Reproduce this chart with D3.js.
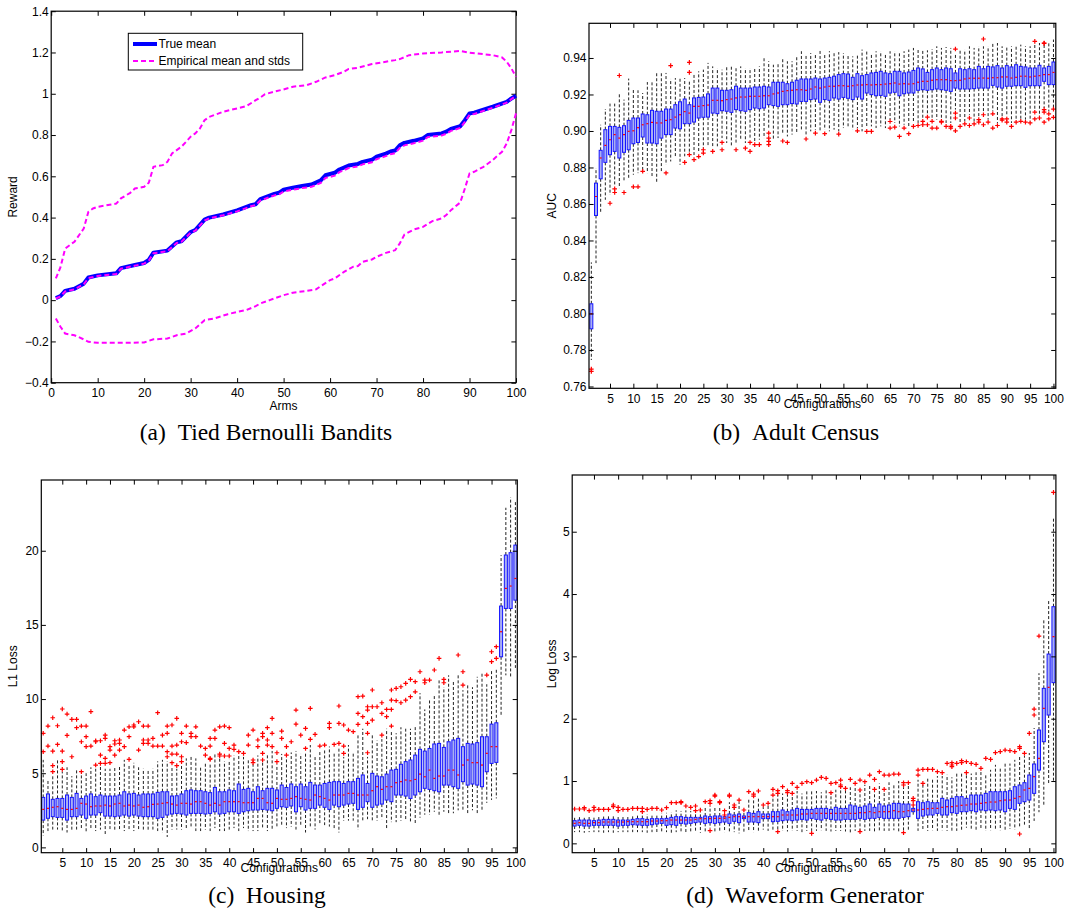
<!DOCTYPE html>
<html>
<head>
<meta charset="utf-8">
<script src="https://cdn.jsdelivr.net/npm/d3@7"></script>
<style>
body { margin: 0; background: white; }
</style>
</head>
<body>
<svg id="chart"></svg>
<script>
var w = 1068;
var h = 911;

// ---- (a) Tied Bernoulli Bandits : [arm, reward]
var trueMean = [[1,0.01],[2,0.02],[3,0.045],[5,0.055],[7,0.08],[8,0.11],[10,0.12],[14,0.13],[15,0.155],[18,0.17],[20,0.18],[21,0.195],[22,0.23],[25,0.24],[27,0.28],[28,0.285],[30,0.33],[31,0.34],[33,0.39],[34,0.40],[37,0.415],[40,0.435],[43,0.46],[44,0.465],[45,0.49],[48,0.515],[49,0.52],[50,0.535],[52,0.545],[54,0.553],[56,0.56],[58,0.58],[59,0.605],[61,0.617],[62,0.633],[64,0.652],[66,0.66],[67,0.67],[69,0.68],[70,0.695],[72,0.71],[73,0.72],[74,0.725],[75,0.75],[76,0.762],[78,0.772],[80,0.784],[81,0.80],[84,0.808],[85,0.816],[86,0.83],[88,0.843],[89,0.872],[90,0.905],[91,0.908],[95,0.937],[98,0.961],[99,0.977],[100,0.99]];
var empMean = [[1,0.008],[2,0.018],[3,0.042],[5,0.052],[7,0.077],[8,0.107],[10,0.117],[14,0.127],[15,0.152],[18,0.167],[20,0.177],[21,0.192],[22,0.227],[25,0.237],[27,0.277],[28,0.282],[30,0.327],[31,0.337],[33,0.386],[34,0.396],[37,0.411],[40,0.43],[43,0.455],[44,0.46],[45,0.483],[48,0.507],[49,0.512],[50,0.526],[52,0.535],[54,0.543],[56,0.549],[58,0.568],[59,0.592],[61,0.603],[62,0.62],[64,0.64],[66,0.648],[67,0.658],[69,0.668],[70,0.683],[72,0.698],[73,0.707],[74,0.712],[75,0.738],[76,0.75],[78,0.76],[80,0.773],[81,0.79],[84,0.798],[85,0.806],[86,0.82],[88,0.834],[89,0.864],[90,0.898],[91,0.902],[95,0.932],[98,0.957],[99,0.974],[100,0.99]];
var upperStd = [[1,0.105],[2,0.16],[3,0.25],[4,0.267],[5,0.283],[7,0.347],[8,0.428],[9,0.444],[10,0.452],[14,0.468],[15,0.493],[17,0.52],[18,0.541],[20,0.549],[21,0.569],[22,0.646],[24,0.654],[25,0.67],[26,0.711],[28,0.743],[29,0.767],[30,0.792],[31,0.808],[32,0.832],[33,0.872],[34,0.888],[37,0.913],[40,0.929],[42,0.94],[44,0.969],[45,0.982],[46,0.998],[48,1.01],[50,1.021],[52,1.034],[55,1.042],[57,1.058],[59,1.079],[61,1.09],[63,1.107],[64,1.12],[66,1.126],[69,1.144],[72,1.155],[74,1.163],[75,1.168],[77,1.187],[80,1.195],[84,1.2],[88,1.208],[90,1.199],[95,1.187],[97,1.176],[98,1.155],[99,1.123],[100,1.082]];
var lowerStd = [[1,-0.089],[2,-0.129],[3,-0.162],[5,-0.17],[7,-0.19],[8,-0.202],[10,-0.207],[15,-0.207],[20,-0.205],[21,-0.197],[22,-0.19],[25,-0.186],[27,-0.17],[29,-0.162],[31,-0.137],[33,-0.097],[35,-0.089],[38,-0.068],[40,-0.057],[42,-0.048],[44,-0.029],[45,-0.016],[47,0],[50,0.024],[52,0.036],[55,0.045],[57,0.052],[58,0.068],[60,0.097],[61,0.105],[63,0.137],[65,0.162],[66,0.165],[67,0.186],[69,0.197],[70,0.21],[72,0.229],[74,0.242],[75,0.275],[76,0.318],[78,0.342],[80,0.355],[82,0.383],[84,0.396],[85,0.412],[86,0.436],[88,0.473],[89,0.541],[90,0.614],[91,0.622],[93,0.646],[95,0.679],[97,0.719],[98,0.759],[99,0.824],[100,0.905]];
var armTicks = [0,10,20,30,40,50,60,70,80,90,100];
var rewardTicks = [-0.4,-0.2,0,0.2,0.4,0.6,0.8,1,1.2,1.4];

// ---- box plot panels: configuration 1..100
var configTicks = [5,10,15,20,25,30,35,40,45,50,55,60,65,70,75,80,85,90,95,100];

// (b) Adult Census, AUC
var bMed = [0.7998,0.8641,0.8852,0.8921,0.8952,0.898,0.8961,0.898,0.8998,0.9001,
0.9018,0.9034,0.904,0.9047,0.9044,0.9044,0.9058,0.9062,0.9076,0.9089,
0.9106,0.9098,0.9135,0.9135,0.9139,0.9142,0.9168,0.9168,0.9166,0.9172,
0.9175,0.9181,0.9186,0.9186,0.919,0.919,0.919,0.9193,0.9193,0.9203,
0.9208,0.9217,0.9221,0.9223,0.9226,0.9226,0.9223,0.923,0.9241,0.9235,
0.9241,0.9245,0.9245,0.9248,0.9248,0.9245,0.9248,0.9252,0.9252,0.9254,
0.9252,0.9254,0.9254,0.9257,0.9259,0.9263,0.9257,0.9259,0.9257,0.9259,
0.9267,0.9272,0.9272,0.9278,0.9281,0.9281,0.9281,0.9276,0.9276,0.9278,
0.9285,0.9289,0.9289,0.9289,0.929,0.9289,0.9292,0.9292,0.9296,0.9296,
0.929,0.9294,0.93,0.93,0.9296,0.93,0.9303,0.9309,0.9309,0.9321];
var bQ3 = [0.8053,0.8714,0.8894,0.9007,0.9025,0.9025,0.902,0.9029,0.9058,0.9071,
0.9071,0.9093,0.9089,0.9113,0.9108,0.9108,0.912,0.912,0.9144,0.916,
0.9175,0.9144,0.9181,0.9184,0.9186,0.9203,0.9235,0.9235,0.9223,0.9223,
0.9226,0.9245,0.9235,0.9235,0.9235,0.9241,0.9241,0.9245,0.9241,0.9267,
0.9267,0.9267,0.9259,0.9267,0.9278,0.9285,0.9285,0.9285,0.929,0.9285,
0.929,0.9294,0.93,0.9309,0.9314,0.9312,0.9294,0.9314,0.9303,0.9309,
0.9318,0.9321,0.9327,0.9318,0.9314,0.9327,0.9327,0.9318,0.9323,0.9332,
0.9345,0.934,0.9321,0.9336,0.9345,0.9336,0.9345,0.9341,0.9318,0.9341,
0.9336,0.9341,0.9336,0.9354,0.9341,0.9354,0.9351,0.9358,0.9345,0.9358,
0.9351,0.9363,0.9354,0.9351,0.9345,0.9345,0.936,0.9345,0.9354,0.9378];
var bQ1 = [0.7916,0.8537,0.8738,0.8828,0.887,0.8888,0.8852,0.8883,0.8897,0.893,
0.8937,0.8967,0.8934,0.8934,0.893,0.8961,0.898,0.898,0.9016,0.9012,
0.904,0.904,0.9049,0.9071,0.9075,0.9076,0.9098,0.9095,0.9111,0.9108,
0.9102,0.9117,0.9111,0.9108,0.9117,0.9126,0.9122,0.9126,0.9144,0.9139,
0.9135,0.9144,0.9144,0.915,0.9148,0.9162,0.9162,0.9172,0.9175,0.9157,
0.9172,0.9168,0.9181,0.9175,0.9184,0.9179,0.9172,0.9186,0.9175,0.9208,
0.9199,0.9193,0.9195,0.919,0.9208,0.9212,0.9193,0.9204,0.9208,0.9208,
0.9223,0.9226,0.9223,0.9226,0.923,0.9226,0.9223,0.9217,0.9235,0.923,
0.923,0.923,0.9232,0.9235,0.9235,0.9235,0.925,0.9241,0.9235,0.9245,
0.9245,0.9248,0.9248,0.9239,0.9248,0.9248,0.9248,0.9272,0.9254,0.9254];
var bLo = [0.7745,0.8276,0.855,0.8623,0.865,0.8705,0.8687,0.8724,0.8742,0.876,
0.8769,0.8788,0.8769,0.8751,0.8714,0.8778,0.8815,0.8833,0.8852,0.8815,
0.8861,0.8879,0.8861,0.8879,0.8906,0.8916,0.8906,0.8916,0.8961,0.8934,
0.8916,0.8934,0.8952,0.8934,0.8961,0.8943,0.8952,0.8961,0.9007,0.8952,
0.8961,0.898,0.897,0.898,0.8989,0.8998,0.898,0.8998,0.9007,0.8998,
0.9007,0.8998,0.9007,0.8998,0.9016,0.9016,0.9007,0.9016,0.8998,0.9025,
0.9025,0.9016,0.9025,0.9016,0.9062,0.9044,0.9025,0.9034,0.9016,0.9044,
0.9044,0.9062,0.9089,0.9062,0.9062,0.9062,0.9044,0.9044,0.9117,0.9044,
0.9053,0.9089,0.9053,0.908,0.9098,0.9062,0.9108,0.9044,0.9071,0.908,
0.9044,0.9062,0.9062,0.9062,0.9053,0.9117,0.908,0.9126,0.9108,0.9126];
var bHi = [0.828,0.8797,0.9034,0.912,0.915,0.915,0.9204,0.9172,0.9287,0.9226,
0.9223,0.9208,0.9268,0.9268,0.9321,0.9318,0.9318,0.9285,0.929,0.929,
0.929,0.9281,0.9309,0.9327,0.9336,0.9373,0.9354,0.9345,0.9336,0.9354,
0.9354,0.9345,0.9354,0.9345,0.9345,0.9345,0.9354,0.94,0.9382,0.9363,
0.9373,0.9395,0.9382,0.9382,0.9409,0.9437,0.9418,0.9427,0.9418,0.9449,
0.9427,0.9437,0.9432,0.9432,0.9427,0.9418,0.9409,0.9418,0.9446,0.9437,
0.9427,0.9437,0.9437,0.9427,0.9437,0.9437,0.9432,0.9437,0.9446,0.9455,
0.9446,0.9446,0.9442,0.9449,0.9464,0.9455,0.946,0.9455,0.9427,0.9449,
0.9446,0.9464,0.9455,0.9464,0.9464,0.9464,0.9482,0.9482,0.9464,0.9464,
0.9464,0.9467,0.9473,0.9464,0.9464,0.9482,0.9482,0.9473,0.9491,0.9501];
var bOut = [[1,0.7695],[1,0.7683],[5,0.8604],[6,0.8683],[6,0.8663],[7,0.9304],[8,0.8663],[10,0.8694],[11,0.8694],[12,0.8779],[17,0.877],[18,0.9358],[21,0.8828],[22,0.9376],[22,0.9321],[22,0.887],[23,0.8843],[24,0.886],[25,0.8897],[25,0.8879],[27,0.8888],[29,0.8937],[29,0.8897],[32,0.8897],[34,0.8906],[35,0.8937],[35,0.8888],[36,0.8925],[37,0.8925],[39,0.8988],[39,0.8961],[39,0.8943],[39,0.8925],[42,0.8945],[43,0.8937],[47,0.8956],[49,0.8988],[51,0.8985],[54,0.8983],[58,0.9001],[60,0.8998],[61,0.8998],[65,0.9052],[65,0.9016],[66,0.9021],[67,0.897],[68,0.9016],[69,0.8985],[70,0.9025],[71,0.903],[72,0.9053],[72,0.9034],[73,0.9076],[73,0.9034],[74,0.9053],[74,0.9016],[75,0.9016],[76,0.9053],[76,0.9048],[77,0.9025],[78,0.9025],[78,0.9016],[79,0.9449],[79,0.9098],[79,0.9071],[79,0.9001],[80,0.9025],[81,0.9039],[82,0.9071],[82,0.903],[83,0.9039],[84,0.9062],[84,0.9048],[85,0.9504],[85,0.9089],[85,0.9034],[86,0.9048],[87,0.9094],[87,0.9016],[88,0.903],[89,0.9066],[89,0.9059],[90,0.9066],[90,0.9048],[91,0.9025],[92,0.9048],[93,0.9053],[94,0.9048],[95,0.9044],[96,0.9491],[96,0.9103],[96,0.9066],[97,0.9071],[98,0.9482],[98,0.948],[98,0.9117],[98,0.9103],[98,0.9048],[99,0.9094],[99,0.9066],[100,0.912],[100,0.9075]];
var aucTicks = [0.76,0.78,0.8,0.82,0.84,0.86,0.88,0.9,0.92,0.94];

// (c) Housing, L1 loss
var cMed = [2.56,2.63,2.70,2.74,2.63,2.56,2.56,2.63,2.97,2.92,
2.74,2.79,2.79,2.85,2.79,2.92,2.97,2.79,2.85,2.79,
2.85,2.70,2.74,2.90,2.92,2.97,3.01,2.92,2.85,2.97,
2.97,2.92,3.08,3.08,2.97,2.85,2.97,2.85,3.08,3.08,
3.08,3.08,3.01,3.01,3.01,3.30,3.30,3.01,2.97,3.30,
3.24,3.24,3.30,3.42,3.30,3.24,3.19,3.53,3.42,3.30,
3.19,3.53,3.53,3.53,3.64,3.64,3.53,3.53,3.53,3.82,
4.09,3.91,4.09,4.09,4.36,4.43,4.54,4.49,4.58,4.94,
4.76,5.21,4.65,4.81,4.81,5.21,5.21,4.88,5.55,5.89,
5.71,5.71,5.55,6.34,6.79,6.79,14.54,17.46,17.62,18.13];
var cQ3 = [3.37,3.60,3.24,3.30,3.30,3.53,3.37,3.64,3.30,3.46,
3.60,3.42,3.53,3.46,3.46,3.46,3.53,3.75,3.60,3.64,
3.53,3.60,3.60,3.60,3.71,3.75,3.75,3.46,3.48,3.60,
3.82,3.87,3.82,3.82,3.75,3.69,4.04,3.75,3.75,3.87,
3.82,4.27,3.91,3.98,3.75,4.09,3.82,3.98,3.98,3.87,
4.20,4.04,4.27,4.09,4.27,4.09,4.38,4.20,4.20,4.31,
4.38,4.43,4.43,4.31,4.43,4.43,4.65,4.88,4.31,4.99,
4.81,4.76,4.94,5.21,5.26,5.60,5.78,5.89,6.22,6.61,
6.49,6.67,6.97,7.01,6.74,7.12,7.24,7.35,6.79,7.01,
6.97,7.06,7.46,7.46,8.31,8.40,16.27,19.71,19.87,20.38];
var cQ1 = [1.84,1.96,2.07,2.02,2.02,1.84,2.07,2.07,2.18,1.96,
2.18,2.18,2.34,2.11,2.11,2.07,2.11,2.18,2.11,2.18,
2.11,2.07,2.07,2.07,1.96,2.02,2.18,2.25,2.29,2.25,
2.18,2.29,2.29,2.29,2.25,2.29,2.40,2.25,2.29,2.40,
2.40,2.29,2.40,2.47,2.52,2.52,2.56,2.52,2.47,2.63,
2.74,2.70,2.79,2.40,2.74,2.52,2.63,2.63,2.85,2.70,
2.56,2.85,2.74,2.85,2.92,2.97,2.56,2.70,3.08,2.70,
2.85,2.92,3.19,3.08,3.53,3.53,3.46,3.30,3.53,3.75,
3.98,3.91,3.82,3.75,4.20,4.20,4.09,3.98,4.43,4.20,
4.27,4.20,4.09,5.10,5.66,5.73,12.85,16.11,16.11,16.67];
var cLo = [0.8,1.1,1.2,1.2,1.1,1.0,1.1,1.2,1.2,1.0,
1.2,1.1,1.2,0.9,1.2,1.1,1.2,1.1,1.1,1.1,
1.2,1.2,1.1,1.2,1.1,1.0,0.7,1.2,1.2,1.2,
1.3,1.3,1.1,1.1,1.2,1.1,1.3,1.1,1.1,1.2,
1.3,1.1,1.3,1.1,1.1,1.1,1.3,1.1,1.2,1.4,
1.5,1.3,1.4,1.2,1.5,1.0,1.4,1.2,1.5,1.5,
1.4,1.2,1.0,1.8,1.8,1.8,1.2,1.8,1.9,1.8,
1.8,1.9,1.3,1.7,1.7,1.8,1.8,1.7,1.6,2.0,
2.2,2.2,2.4,2.1,2.4,2.3,2.3,2.5,2.5,2.3,
2.5,2.2,2.5,3.0,3.2,3.3,8.9,11.6,11.4,12.1];
var cHi = [5.9,4.6,4.9,5.9,5.1,5.4,4.8,5.2,4.9,5.0,
5.4,5.3,5.5,5.3,5.3,5.4,5.5,5.9,5.6,5.7,
5.4,5.3,5.2,5.3,5.8,5.9,5.8,5.5,5.3,5.6,
6.0,6.1,6.0,5.5,5.7,5.6,6.3,6.0,5.8,5.9,
6.2,6.2,6.1,6.0,5.6,6.2,5.8,6.3,6.5,5.6,
6.3,6.0,6.4,6.5,6.3,6.4,6.9,6.1,6.5,6.6,
6.8,6.4,6.7,6.1,6.9,6.4,7.6,8.0,6.1,7.6,
7.2,7.3,8.0,7.9,7.7,8.1,8.0,8.0,8.2,10.4,
9.3,10.0,10.2,11.3,10.8,11.6,11.2,11.6,10.6,11.0,
10.8,11.5,11.8,11.0,12.0,12.0,19.7,22.9,23.6,23.4];
var cOut = [[1,7.69],[1,6.45],[2,8.18],[2,6.83],[3,8.74],[3,6.49],[3,5.51],[3,5.10],[4,8.20],[4,6.94],[5,9.33],[5,6.49],[5,5.78],[5,5.26],[6,8.99],[6,7.55],[7,8.63],[7,6.11],[8,8.63],[8,8.07],[9,8.18],[9,7.12],[9,5.10],[10,8.18],[10,7.46],[10,6.79],[11,9.15],[11,6.83],[12,7.19],[12,7.12],[12,5.55],[13,7.19],[13,6.22],[13,5.66],[14,7.57],[14,7.35],[14,6.00],[14,5.66],[15,6.79],[15,6.56],[15,5.71],[16,7.19],[16,6.97],[16,6.22],[17,7.24],[17,7.01],[17,6.56],[18,7.91],[18,6.79],[19,8.13],[19,7.46],[19,5.93],[20,8.25],[20,8.13],[21,8.47],[21,6.56],[22,8.18],[22,7.24],[22,7.01],[23,8.18],[23,7.24],[23,7.01],[24,7.35],[24,6.83],[25,9.08],[25,6.83],[26,7.57],[26,6.83],[27,8.18],[27,7.69],[27,6.45],[27,6.11],[28,8.25],[28,6.83],[28,6.29],[28,5.71],[29,8.70],[29,6.90],[29,6.29],[29,5.51],[30,7.69],[30,7.12],[30,6.11],[30,5.78],[31,8.18],[31,7.06],[32,7.69],[32,7.46],[33,8.13],[33,7.46],[34,6.83],[35,6.67],[35,6.22],[36,7.35],[36,6.83],[36,6.00],[36,5.93],[37,7.91],[37,7.35],[38,8.13],[38,6.29],[38,6.16],[39,8.18],[39,7.01],[39,6.16],[40,8.07],[40,6.67],[40,6.16],[41,6.90],[41,6.61],[42,6.45],[43,6.34],[44,7.57],[44,6.90],[45,7.91],[45,5.89],[45,5.71],[46,7.24],[46,6.79],[47,7.69],[47,7.46],[47,6.34],[47,5.89],[48,8.07],[48,7.24],[48,6.90],[49,8.70],[49,7.69],[49,6.79],[50,6.38],[50,5.78],[51,7.84],[51,7.35],[52,6.79],[52,6.22],[53,7.12],[54,9.26],[54,8.31],[55,7.57],[56,8.02],[56,6.67],[57,9.37],[57,7.28],[58,7.62],[59,6.83],[60,6.90],[61,8.36],[61,8.07],[62,6.94],[63,9.53],[63,8.36],[63,7.01],[64,8.25],[64,6.83],[64,6.34],[65,7.91],[66,7.80],[67,10.16],[67,9.03],[67,8.29],[68,10.20],[68,8.81],[69,9.48],[69,9.26],[69,8.36],[69,7.69],[69,6.38],[70,10.61],[70,9.48],[70,8.58],[71,9.48],[72,9.75],[72,9.03],[72,7.57],[73,9.30],[73,8.81],[74,10.61],[74,9.93],[74,9.30],[74,8.18],[75,10.72],[75,9.89],[76,10.83],[76,9.75],[77,11.06],[77,9.93],[78,11.33],[78,10.16],[79,11.17],[79,10.49],[80,11.84],[81,11.28],[81,11.10],[82,11.28],[83,11.96],[84,12.74],[85,11.33],[85,11.10],[88,12.97],[89,11.84],[89,10.94],[94,11.62],[95,13.19],[95,12.52],[96,13.53],[96,12.74]];
var lossTicks = [0,5,10,15,20];

// (d) Waveform Generator, log loss
var dMed = [0.321,0.332,0.321,0.321,0.332,0.332,0.342,0.342,0.342,0.342,
0.342,0.348,0.348,0.348,0.348,0.348,0.358,0.358,0.364,0.364,
0.374,0.374,0.374,0.374,0.374,0.385,0.396,0.396,0.396,0.401,
0.401,0.401,0.417,0.428,0.428,0.417,0.428,0.428,0.428,0.428,
0.428,0.428,0.428,0.455,0.455,0.455,0.455,0.471,0.471,0.481,
0.481,0.481,0.481,0.481,0.481,0.481,0.481,0.481,0.481,0.492,
0.492,0.508,0.492,0.508,0.508,0.508,0.524,0.508,0.508,0.524,
0.535,0.535,0.545,0.556,0.561,0.561,0.578,0.588,0.588,0.599,
0.610,0.615,0.631,0.631,0.642,0.652,0.663,0.663,0.684,0.695,
0.695,0.722,0.749,0.856,0.882,1.070,1.364,2.166,2.503,3.316];
var dQ3 = [0.364,0.374,0.374,0.374,0.364,0.374,0.385,0.385,0.385,0.374,
0.374,0.374,0.385,0.396,0.396,0.385,0.396,0.396,0.396,0.401,
0.417,0.428,0.428,0.417,0.417,0.417,0.417,0.439,0.428,0.439,
0.439,0.428,0.471,0.455,0.471,0.439,0.492,0.481,0.508,0.471,
0.471,0.508,0.508,0.535,0.508,0.535,0.561,0.545,0.545,0.545,
0.561,0.561,0.561,0.545,0.578,0.561,0.561,0.615,0.599,0.578,
0.599,0.631,0.578,0.631,0.599,0.615,0.642,0.642,0.631,0.631,
0.561,0.668,0.652,0.668,0.652,0.652,0.722,0.695,0.722,0.749,
0.749,0.722,0.775,0.775,0.775,0.802,0.829,0.829,0.829,0.829,
0.845,0.909,0.936,0.973,1.096,1.273,1.818,2.487,3.037,3.797];
var dQ1 = [0.278,0.289,0.278,0.278,0.289,0.289,0.289,0.289,0.289,0.278,
0.289,0.289,0.299,0.294,0.289,0.289,0.299,0.310,0.321,0.289,
0.299,0.289,0.321,0.310,0.321,0.332,0.342,0.321,0.332,0.321,
0.332,0.342,0.321,0.353,0.332,0.396,0.342,0.342,0.332,0.396,
0.396,0.348,0.353,0.364,0.374,0.364,0.374,0.385,0.374,0.401,
0.385,0.374,0.401,0.385,0.374,0.374,0.385,0.385,0.385,0.401,
0.385,0.401,0.401,0.417,0.401,0.401,0.401,0.401,0.417,0.428,
0.508,0.401,0.439,0.455,0.455,0.481,0.455,0.455,0.492,0.481,
0.508,0.508,0.524,0.508,0.535,0.524,0.535,0.524,0.535,0.508,
0.561,0.545,0.642,0.668,0.695,0.802,1.176,1.631,2.059,2.578];
var dLo = [0.18,0.18,0.17,0.18,0.18,0.18,0.17,0.18,0.17,0.18,
0.18,0.18,0.18,0.18,0.18,0.17,0.18,0.18,0.18,0.18,
0.17,0.18,0.17,0.18,0.18,0.18,0.17,0.19,0.24,0.18,
0.19,0.18,0.17,0.18,0.16,0.18,0.20,0.18,0.20,0.22,
0.20,0.20,0.22,0.20,0.19,0.20,0.20,0.18,0.20,0.20,
0.20,0.21,0.20,0.19,0.20,0.20,0.19,0.16,0.20,0.20,
0.20,0.20,0.19,0.20,0.20,0.20,0.21,0.19,0.20,0.20,
0.46,0.20,0.21,0.20,0.21,0.20,0.21,0.20,0.19,0.20,
0.21,0.25,0.22,0.20,0.22,0.20,0.21,0.21,0.21,0.20,
0.23,0.22,0.26,0.30,0.24,0.36,0.50,0.60,0.95,1.00];
var dHi = [0.41,0.42,0.41,0.43,0.42,0.44,0.43,0.44,0.45,0.43,
0.44,0.45,0.44,0.46,0.45,0.47,0.46,0.47,0.48,0.49,
0.50,0.53,0.52,0.53,0.52,0.51,0.52,0.58,0.60,0.60,
0.60,0.44,0.66,0.56,0.66,0.52,0.70,0.70,0.72,0.58,
0.60,0.74,0.78,0.80,0.78,0.78,0.84,0.80,0.86,0.86,
0.84,0.82,0.86,0.80,0.86,0.88,0.86,0.90,0.92,0.84,
0.94,0.92,0.84,0.96,0.84,0.98,0.96,1.00,0.90,0.94,
0.59,1.02,0.94,1.04,1.05,1.08,1.08,1.10,1.06,1.12,
1.14,1.10,1.12,1.14,1.16,1.12,1.18,1.26,1.22,1.30,
1.28,1.34,1.40,1.40,1.45,1.85,2.73,3.58,3.90,5.21];
var dOut = [[1,0.551],[2,0.551],[3,0.551],[3,0.572],[4,0.524],[5,0.535],[5,0.578],[6,0.545],[7,0.545],[8,0.545],[9,0.615],[9,0.588],[10,0.524],[10,0.578],[11,0.545],[12,0.545],[13,0.561],[14,0.561],[15,0.561],[15,0.508],[16,0.545],[17,0.561],[18,0.561],[19,0.535],[20,0.572],[21,0.652],[22,0.652],[23,0.668],[23,0.652],[24,0.599],[25,0.578],[26,0.599],[26,0.524],[27,0.535],[28,0.668],[29,0.684],[29,0.642],[29,0.203],[30,0.775],[30,0.759],[31,0.668],[31,0.652],[32,0.524],[32,0.455],[33,0.775],[33,0.759],[34,0.615],[34,0.578],[35,0.695],[36,0.535],[37,0.829],[38,0.791],[38,0.759],[39,0.840],[40,0.615],[41,0.642],[42,0.866],[42,0.775],[43,0.845],[43,0.802],[43,0.187],[44,0.909],[45,0.845],[45,0.813],[46,0.963],[46,0.802],[47,0.898],[48,0.963],[49,0.989],[50,0.973],[50,0.160],[51,1.016],[52,1.059],[53,1.043],[54,0.963],[54,0.813],[55,0.973],[56,1.016],[56,0.936],[56,0.909],[57,0.882],[58,1.027],[59,0.963],[60,1.016],[60,0.856],[60,0.187],[61,0.989],[62,1.096],[63,1.027],[63,0.866],[64,1.150],[65,1.096],[65,0.866],[66,1.096],[67,1.112],[68,1.112],[69,0.973],[69,0.936],[69,0.171],[70,0.973],[71,0.722],[71,0.684],[71,0.615],[72,1.176],[72,1.096],[73,1.187],[73,0.963],[74,1.187],[75,1.187],[76,1.150],[77,1.134],[78,1.283],[79,1.294],[79,1.257],[79,1.230],[80,1.283],[81,1.326],[81,1.294],[82,1.310],[82,1.134],[83,1.283],[84,1.267],[85,1.203],[86,1.364],[87,1.348],[88,1.455],[89,1.471],[90,1.497],[91,1.487],[92,1.471],[93,1.551],[93,1.524],[93,0.150],[94,1.444],[95,1.765],[96,2.155],[96,2.059],[97,3.326],[100,5.631]];
var logLossTicks = [0,1,2,3,4,5];

var sans = "'Liberation Sans', Arial, sans-serif";
var serif = "'Liberation Serif', 'Times New Roman', serif";
var tickLen = 4.6;

var svg = d3.select("#chart")
	.attr("width", w)
	.attr("height", h)
	.style("background-color", "white");

// matlab-like frame: inward ticks on all four sides, labels on left/bottom only
function drawFrame(g, x, y, box, xTicks, yTicks, xFmt, yFmt) {
	function styleAxis(sel) {
		sel.select(".domain").remove();
		sel.attr("font-size", 12).attr("font-family", sans);
		sel.selectAll("line").attr("stroke", "black");
		sel.selectAll("text").attr("fill", "black");
	}
	g.append("g").attr("transform", "translate(0," + box.bottom + ")")
		.call(d3.axisBottom(x).tickValues(xTicks).tickSize(-tickLen).tickPadding(6).tickFormat(xFmt))
		.call(styleAxis);
	g.append("g").attr("transform", "translate(0," + box.top + ")")
		.call(d3.axisTop(x).tickValues(xTicks).tickSize(-tickLen).tickFormat(""))
		.call(styleAxis);
	g.append("g").attr("transform", "translate(" + box.left + ",0)")
		.call(d3.axisLeft(y).tickValues(yTicks).tickSize(-tickLen).tickPadding(2.5).tickFormat(yFmt))
		.call(styleAxis);
	g.append("g").attr("transform", "translate(" + box.right + ",0)")
		.call(d3.axisRight(y).tickValues(yTicks).tickSize(-tickLen).tickFormat(""))
		.call(styleAxis);
	g.append("rect")
		.attr("x", box.left).attr("y", box.top)
		.attr("width", box.right - box.left).attr("height", box.bottom - box.top)
		.attr("fill", "none").attr("stroke", "black").attr("stroke-width", 1.2);
}

function axisLabels(box, xLabel, xLabelY, yLabel, yLabelX) {
	svg.append("text")
		.attr("x", (box.left + box.right) / 2).attr("y", xLabelY)
		.attr("text-anchor", "middle").attr("font-family", sans).attr("font-size", 12)
		.text(xLabel);
	svg.append("text")
		.attr("transform", "translate(" + yLabelX + "," + (box.top + box.bottom) / 2 + ") rotate(-90)")
		.attr("text-anchor", "middle").attr("dy", "0.35em")
		.attr("font-family", sans).attr("font-size", 12)
		.text(yLabel);
}

function caption(cx, cy, letter, title) {
	svg.append("text")
		.attr("x", cx).attr("y", cy)
		.attr("text-anchor", "middle").attr("font-family", serif).attr("font-size", 23.5)
		.text("(" + letter + ")\u2002" + title);
}

// ---------- panel (a)
(function () {
	var box = { left: 51.2, right: 516, top: 11.2, bottom: 382.7 };
	var x = d3.scaleLinear().domain([0, 100]).range([box.left, box.right]);
	var y = d3.scaleLinear().domain([-0.4, 1.4]).range([box.bottom, box.top]);
	var g = svg.append("g");
	var fmt = function (d) {
		if (d === 0) return "0";
		return (d < 0 ? "\u2212" : "") + String(+Math.abs(d).toFixed(1));
	};
	drawFrame(g, x, y, box, armTicks, rewardTicks, d3.format("d"), fmt);

	var line = d3.line().x(function (d) { return x(d[0]); }).y(function (d) { return y(d[1]); });
	g.append("path").attr("d", line(trueMean))
		.attr("fill", "none").attr("stroke", "#0000ff").attr("stroke-width", 4)
		.attr("stroke-linejoin", "round");
	[empMean, upperStd, lowerStd].forEach(function (s) {
		g.append("path").attr("d", line(s))
			.attr("fill", "none").attr("stroke", "#ff00ff").attr("stroke-width", 2)
			.attr("stroke-dasharray", "5,3");
	});

	// legend
	var lg = g.append("g");
	lg.append("rect").attr("x", 128.3).attr("y", 33.3).attr("width", 174.4).attr("height", 36.7)
		.attr("fill", "white").attr("stroke", "black").attr("stroke-width", 1);
	lg.append("line").attr("x1", 133).attr("x2", 157).attr("y1", 44).attr("y2", 44)
		.attr("stroke", "#0000ff").attr("stroke-width", 4);
	lg.append("line").attr("x1", 133).attr("x2", 157).attr("y1", 61).attr("y2", 61)
		.attr("stroke", "#ff00ff").attr("stroke-width", 2).attr("stroke-dasharray", "5,3");
	lg.append("text").attr("x", 158.5).attr("y", 48.2).attr("font-family", sans).attr("font-size", 12).text("True mean");
	lg.append("text").attr("x", 158.5).attr("y", 65.4).attr("font-family", sans).attr("font-size", 12).text("Empirical mean and stds");

	axisLabels(box, "Arms", 409.5, "Reward", 13.2);
	caption(266, 440, "a", "Tied Bernoulli Bandits");
})();

// ---------- box plot panels
function boxPanel(box, xDomain, yDomain, yTicks, yFmt, med, q1, q3, lo, hi, outl, yLabel, letter, title, capX, capY, xLabY) {
	var x = d3.scaleLinear().domain(xDomain).range([box.left, box.right]);
	var y = d3.scaleLinear().domain(yDomain).range([box.bottom, box.top]);
	var g = svg.append("g");
	var bw = (x(1) - x(0)) * 0.64;
	var data = med.map(function (m, i) {
		return { pos: i + 1, med: m, q1: q1[i], q3: q3[i], lo: lo[i], hi: hi[i] };
	});

	// whiskers
	g.selectAll(".whi").data(data).join("line")
		.attr("x1", function (d) { return x(d.pos); }).attr("x2", function (d) { return x(d.pos); })
		.attr("y1", function (d) { return y(d.q3); }).attr("y2", function (d) { return y(d.hi); })
		.attr("stroke", "#222").attr("stroke-width", 1).attr("stroke-dasharray", "3,2");
	g.selectAll(".wlo").data(data).join("line")
		.attr("x1", function (d) { return x(d.pos); }).attr("x2", function (d) { return x(d.pos); })
		.attr("y1", function (d) { return y(d.q1); }).attr("y2", function (d) { return y(d.lo); })
		.attr("stroke", "#222").attr("stroke-width", 1).attr("stroke-dasharray", "3,2");

	// boxes
	g.selectAll(".bx").data(data).join("rect")
		.attr("x", function (d) { return x(d.pos) - bw / 2; })
		.attr("width", bw)
		.attr("y", function (d) { return y(d.q3); })
		.attr("height", function (d) { return Math.max(1, y(d.q1) - y(d.q3)); })
		.attr("fill", "#a9aff2").attr("stroke", "#1414ff").attr("stroke-width", 1);

	// medians
	g.selectAll(".md").data(data).join("line")
		.attr("x1", function (d) { return x(d.pos) - bw / 2 + 0.5; })
		.attr("x2", function (d) { return x(d.pos) + bw / 2 - 0.5; })
		.attr("y1", function (d) { return y(d.med); }).attr("y2", function (d) { return y(d.med); })
		.attr("stroke", "#ff0000").attr("stroke-width", 1.2);

	// outliers
	var arm = 2.3;
	g.selectAll(".out").data(outl).join("path")
		.attr("d", function (d) {
			var cx = x(d[0]), cy = y(d[1]);
			return "M" + (cx - arm) + "," + cy + "H" + (cx + arm) + "M" + cx + "," + (cy - arm) + "V" + (cy + arm);
		})
		.attr("stroke", "#ff0000").attr("stroke-width", 1.2).attr("fill", "none");

	drawFrame(g, x, y, box, configTicks, yTicks, d3.format("d"), yFmt);
	axisLabels(box, "Configurations", xLabY, yLabel, box.ylabX);
	caption(capX, capY, letter, title);
}

boxPanel({ left: 589, right: 1055.8, top: 23.3, bottom: 388.3, ylabX: 551.8 },
	[0.5, 100.5], [0.759, 0.959], aucTicks, d3.format(".2f"),
	bMed, bQ1, bQ3, bLo, bHi, bOut, "AUC", "b", "Adult Census", 796, 440, 407.5);

boxPanel({ left: 41.3, right: 517.3, top: 480, bottom: 852.7, ylabX: 12.9 },
	[0.6, 100.4], [-0.36, 24.77], lossTicks, d3.format("d"),
	cMed, cQ1, cQ3, cLo, cHi, cOut, "L1 Loss", "c", "Housing", 267, 903, 872);

boxPanel({ left: 572.2, right: 1055.9, top: 475, bottom: 852.7, ylabX: 551.8 },
	[0.5, 100.5], [-0.15, 5.91], logLossTicks, d3.format("d"),
	dMed, dQ1, dQ3, dLo, dHi, dOut, "Log Loss", "d", "Waveform Generator", 805, 903, 872);
</script>
</body>
</html>
